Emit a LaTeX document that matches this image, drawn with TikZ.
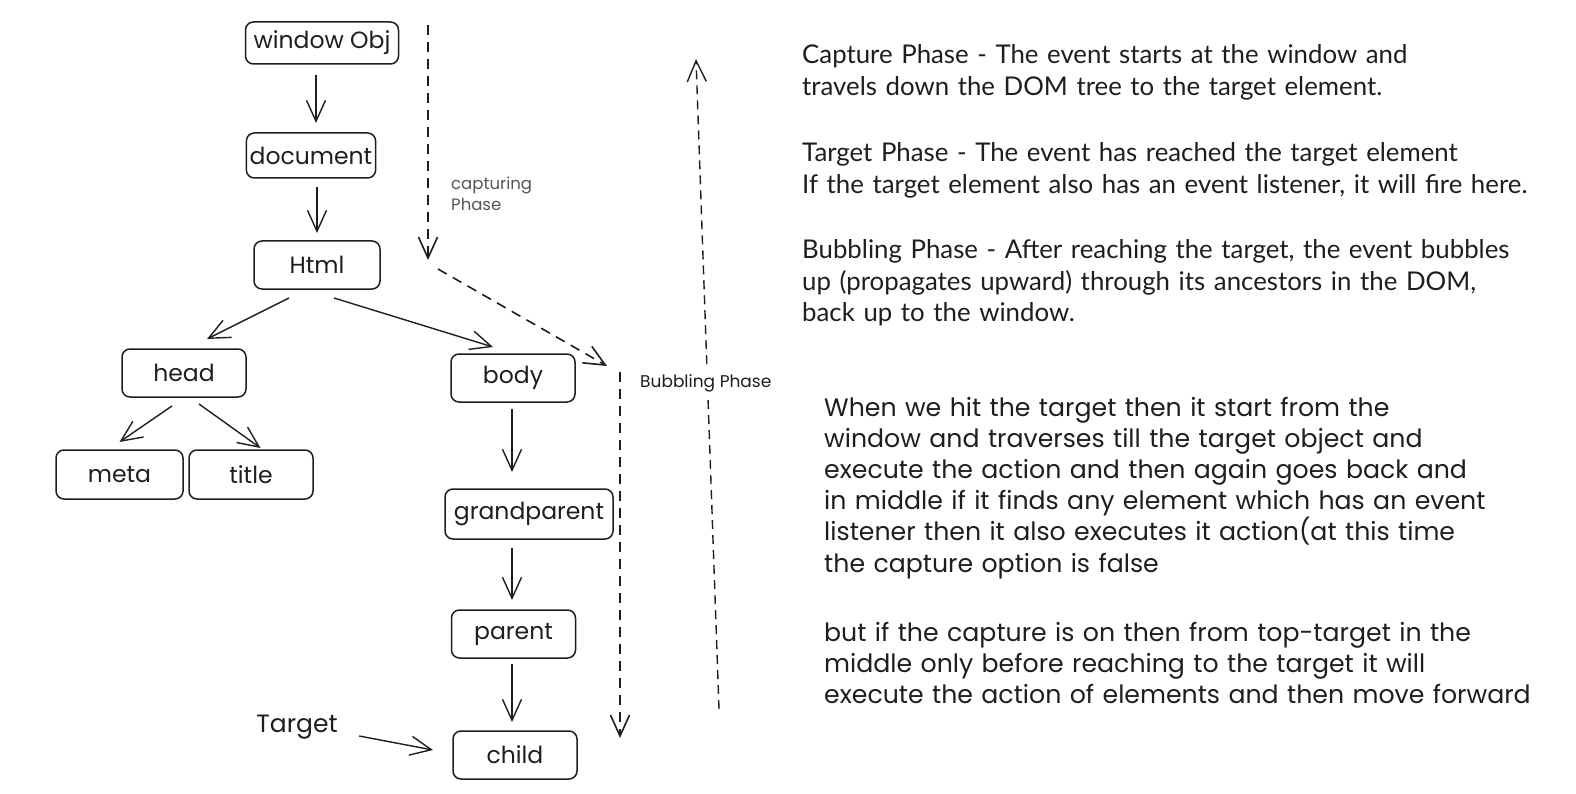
\documentclass[tikz,border=0pt]{standalone}
\usepackage{fontspec}
\setmainfont{Lato}
\newfontfamily\handfont{Poppins}
\usetikzlibrary{arrows.meta,positioning,calc}
\definecolor{ink}{RGB}{30,30,30}
\definecolor{pencil}{RGB}{85,85,85}

\tikzset{
  elem/.style={rectangle, rounded corners=8pt, draw=ink, line width=1.5pt, outer sep=0pt, minimum width=124pt, minimum height=48pt, text=ink, font=\handfont\fontsize{23.5}{26}\selectfont},
  link/.style={-{Straight Barb[length=21pt,width=19pt]}, line width=1.4pt, draw=ink},
  phase/.style={link, dashed, line width=1.6pt, dash pattern=on 10pt off 7pt},
  info/.style={anchor=base west, inner sep=0pt, text width=760pt, align=left, text=ink, font=\fontsize{25.8}{31.2}\selectfont},
  remark/.style={anchor=base west, inner sep=0pt, text width=740pt, align=left, text=ink, font=\handfont\fontsize{25.2}{31.2}\selectfont},
}

\begin{document}
\begin{tikzpicture}[x=1pt, y=-1pt]
\useasboundingbox (0,0) rectangle (1576,794);

% dom tree
\node[elem, minimum width=153pt, minimum height=42pt] (window) at (322,43) {window Obj};
\node[elem, minimum width=123pt, minimum height=45pt, below=69pt of window, xshift=-11pt] (document) {document};
\node[elem, minimum width=126pt, below=63pt of document, xshift=6pt] (html) {Html};
\node[elem, below left=60pt and 8pt of html] (head) {head};
\node[elem, below right=65pt and 71pt of html] (body) {body};
\node[elem, minimum width=127pt, minimum height=49pt, below=53pt of head, xshift=-64.5pt] (meta) {meta};
\node[elem, minimum height=49pt, right=6pt of meta] (title) {title};
\node[elem, minimum width=168pt, minimum height=50pt, below=87pt of body, xshift=16pt] (grandparent) {grandparent};
\node[elem, below=71pt of grandparent, xshift=-15.5pt] (parent) {parent};
\node[elem, below=73pt of parent, xshift=1.5pt] (child) {child};
\node[text=ink, font=\handfont\fontsize{25}{28}\selectfont] (target) at (297,727) {Target};

\draw[link] ([xshift=-6pt, yshift=-11pt]window.south) -- ([xshift=5pt, yshift=10pt]document.north);
\draw[link] ([xshift=6pt, yshift=-9pt]document.south) -- ([yshift=8pt]html.north);
\draw[link] ([xshift=-28pt, yshift=-9pt]html.south) -- ([xshift=23pt, yshift=10pt]head.north);
\draw[link] ([xshift=17pt, yshift=-9pt]html.south) -- ([xshift=-20pt, yshift=7pt]body.north);
\draw[link] ([xshift=-12pt, yshift=-9pt]head.south) -- ([yshift=8pt]meta.north);
\draw[link] ([xshift=15pt, yshift=-7pt]head.south) -- ([xshift=9.5pt, yshift=2pt]title.north);
\draw[link] ([xshift=-1pt, yshift=-7pt]body.south) -- ([xshift=-17pt, yshift=17pt]grandparent.north);
\draw[link] ([xshift=-17pt, yshift=-9pt]grandparent.south) -- ([xshift=-1.5pt, yshift=10pt]parent.north);
\draw[link] ([xshift=-1.5pt, yshift=-6pt]parent.south) -- ([xshift=-3pt, yshift=9pt]child.north);
\draw[link] ([xshift=18pt, yshift=-9pt]target.east) -- ([xshift=-20pt, yshift=5pt]child.west);

% phases
\coordinate (capstart) at (428,25);
\coordinate (capend) at (428,260);
\coordinate (turnstart) at (438,269);
\coordinate (turnend) at (607,366);
\coordinate (bubstart) at (620,372);
\coordinate (bubend) at (620,738);
\coordinate (upstart) at (719,709);
\coordinate (upend) at (696,59);
\draw[phase] (capstart) -- (capend);
\draw[phase] (turnstart) -- (turnend);
\draw[phase] (bubstart) -- (bubend);
\draw[phase, line width=1.4pt, dash pattern=on 9pt off 6pt] (upstart) -- (upend);
\node[anchor=north west, inner sep=0pt, align=left, text=pencil, font=\handfont\fontsize{16.5}{21}\selectfont] (caplabel) at (451,177) {capturing\\Phase};
\node[anchor=west, fill=white, inner xsep=0pt, inner ysep=8pt, text=ink, font=\handfont\fontsize{17}{20}\selectfont] (bublabel) at (640,383) {Bubbling Phase};

% notes
\node[info] (capinfo) at (802,64) {Capture Phase - The event starts at the window and\\travels down the DOM tree to the target element.};
\node[info] (targetinfo) at (802,162) {Target Phase - The event has reached the target element\\If the target element also has an event listener, it will fire here.};
\node[info] (bubinfo) at (802,259) {Bubbling Phase - After reaching the target, the event bubbles\\up (propagates upward) through its ancestors in the DOM,\\back up to the window.};
\node[remark] (note1) at (824,416) {When we hit the target then it start from the\\window and traverses till the target object and\\execute the action and then again goes back and\\in middle if it finds any element which has an event\\listener then it also executes it action(at this time\\the capture option is false};
\node[remark] (note2) at (824,641) {but if the capture is on then from top-target in the\\middle only before reaching to the target it will\\execute the action of elements and then move forward};
\end{tikzpicture}
\end{document}
